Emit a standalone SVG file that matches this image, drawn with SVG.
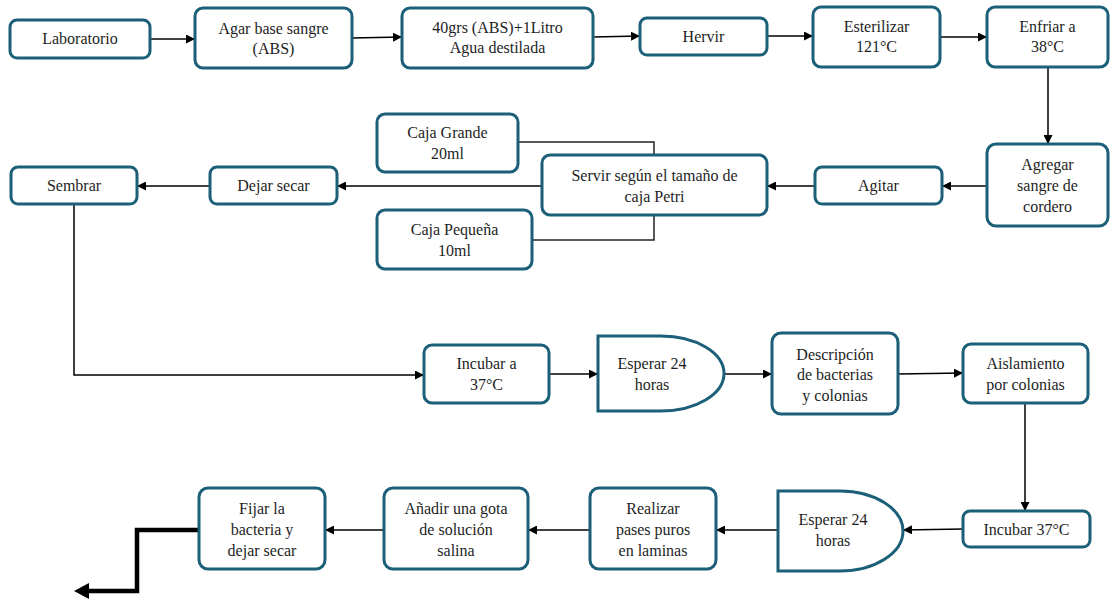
<svg xmlns="http://www.w3.org/2000/svg" width="1110" height="601" viewBox="0 0 1110 601" font-family="'Liberation Serif', 'DejaVu Serif', serif">
<defs>
<style>
.b{fill:#fff;stroke:#1b5f78;stroke-width:3}
.t{font-size:16px;fill:#1e1e1e;text-anchor:middle}
.c{fill:none;stroke:#000;stroke-width:1.5}
.k{fill:none;stroke:#222;stroke-width:1.5}
</style>
<marker id="a" viewBox="0 0 10 10" refX="10" refY="5" markerWidth="9" markerHeight="9" markerUnits="userSpaceOnUse" orient="auto"><path d="M0,0 L10,5 L0,10 z" fill="#000"/></marker>
</defs>
<rect width="1110" height="601" fill="#fff"/>
<g id="connectors">
<path class="c" marker-end="url(#a)" d="M150,39 H195"/>
<path class="c" marker-end="url(#a)" d="M352,38 L402,37"/>
<path class="c" marker-end="url(#a)" d="M593,37 L640,36"/>
<path class="c" marker-end="url(#a)" d="M767,36 H813"/>
<path class="c" marker-end="url(#a)" d="M940,37 H987"/>
<path class="c" marker-end="url(#a)" d="M1048,67 V144"/>
<path class="c" marker-end="url(#a)" d="M987,186 H942"/>
<path class="c" marker-end="url(#a)" d="M815,186 H767"/>
<path class="c" marker-end="url(#a)" d="M542,186 H337"/>
<path class="c" marker-end="url(#a)" d="M210,186 H137"/>
<path class="k" d="M518,142 H654 V155"/>
<path class="k" d="M532,240 H654 V215"/>
<path class="c" marker-end="url(#a)" d="M74,204 V375 H424"/>
<path class="c" marker-end="url(#a)" d="M549,374 H598"/>
<path class="c" marker-end="url(#a)" d="M724,374 H772"/>
<path class="c" marker-end="url(#a)" d="M898,374 L963,373"/>
<path class="c" marker-end="url(#a)" d="M1025,403 V511"/>
<path class="c" marker-end="url(#a)" d="M963,529 L903,530"/>
<path class="c" marker-end="url(#a)" d="M778,530 H716"/>
<path class="c" marker-end="url(#a)" d="M590,530 H528"/>
<path class="c" marker-end="url(#a)" d="M384,530 H325"/>
<path fill="none" stroke="#000" stroke-width="4.5" d="M199,530 H137 V591 H86"/>
<path d="M74,591 L89,583 L89,599 Z" fill="#000"/>
</g>
<g id="n1"><rect class="b" x="10" y="20" width="140" height="38" rx="7"/><text class="t" x="80" y="44">Laboratorio</text></g>
<g id="n2"><rect class="b" x="195" y="8" width="157" height="60" rx="8"/><text class="t" x="273.5" y="34">Agar base sangre</text><text class="t" x="273.5" y="54">(ABS)</text></g>
<g id="n3"><rect class="b" x="402" y="8" width="191" height="60" rx="8"/><text class="t" x="497.5" y="33">40grs (ABS)+1Litro</text><text class="t" x="497.5" y="53">Agua destilada</text></g>
<g id="n4"><rect class="b" x="640" y="18" width="127" height="37" rx="7"/><text class="t" x="703.5" y="42">Hervir</text></g>
<g id="n5"><rect class="b" x="813" y="7" width="127" height="60" rx="8"/><text class="t" x="876.5" y="32">Esterilizar</text><text class="t" x="876.5" y="52">121°C</text></g>
<g id="n6"><rect class="b" x="987" y="7" width="121" height="60" rx="8"/><text class="t" x="1047.5" y="32">Enfriar a</text><text class="t" x="1047.5" y="52">38°C</text></g>
<g id="n7"><rect class="b" x="987" y="144" width="121" height="82" rx="9"/><text class="t" x="1047.5" y="170">Agregar</text><text class="t" x="1047.5" y="191">sangre de</text><text class="t" x="1047.5" y="212">cordero</text></g>
<g id="n8"><rect class="b" x="815" y="167" width="127" height="37" rx="7"/><text class="t" x="878.5" y="191">Agitar</text></g>
<g id="n9"><rect class="b" x="542" y="155" width="225" height="60" rx="8"/><text class="t" x="654.5" y="181">Servir según el tamaño de</text><text class="t" x="654.5" y="202">caja Petri</text></g>
<g id="n10"><rect class="b" x="377" y="114" width="141" height="58" rx="8"/><text class="t" x="447.5" y="138">Caja Grande</text><text class="t" x="447.5" y="159">20ml</text></g>
<g id="n11"><rect class="b" x="377" y="210" width="155" height="59" rx="8"/><text class="t" x="454.5" y="235">Caja Pequeña</text><text class="t" x="454.5" y="256">10ml</text></g>
<g id="n12"><rect class="b" x="210" y="167" width="127" height="37" rx="7"/><text class="t" x="273.5" y="191">Dejar secar</text></g>
<g id="n13"><rect class="b" x="11" y="167" width="126" height="37" rx="7"/><text class="t" x="74" y="191">Sembrar</text></g>
<g id="n14"><rect class="b" x="424" y="345" width="125" height="58" rx="8"/><text class="t" x="486.5" y="369">Incubar a</text><text class="t" x="486.5" y="390">37°C</text></g>
<g id="n15"><path class="b" d="M598,336 H661 A63,37.5 0 0 1 661,411 H598 Z"/><text class="t" x="652" y="369">Esperar 24</text><text class="t" x="652" y="390">horas</text></g>
<g id="n16"><rect class="b" x="772" y="333" width="126" height="81" rx="9"/><text class="t" x="835" y="360">Descripción</text><text class="t" x="835" y="380">de bacterias</text><text class="t" x="835" y="401">y colonias</text></g>
<g id="n17"><rect class="b" x="963" y="344" width="125" height="59" rx="8"/><text class="t" x="1025.5" y="369">Aislamiento</text><text class="t" x="1025.5" y="390">por colonias</text></g>
<g id="n18"><rect class="b" x="963" y="511" width="127" height="36" rx="7"/><text class="t" x="1026.5" y="535">Incubar 37°C</text></g>
<g id="n19"><path class="b" d="M778,491 H840 A63,40 0 0 1 840,571 H778 Z"/><text class="t" x="833" y="525">Esperar 24</text><text class="t" x="833" y="546">horas</text></g>
<g id="n20"><rect class="b" x="590" y="488" width="126" height="81" rx="9"/><text class="t" x="653" y="514">Realizar</text><text class="t" x="653" y="535">pases puros</text><text class="t" x="653" y="556">en laminas</text></g>
<g id="n21"><rect class="b" x="384" y="488" width="144" height="81" rx="9"/><text class="t" x="456" y="514">Añadir una gota</text><text class="t" x="456" y="535">de solución</text><text class="t" x="456" y="556">salina</text></g>
<g id="n22"><rect class="b" x="199" y="488" width="126" height="81" rx="9"/><text class="t" x="262" y="514">Fijar la</text><text class="t" x="262" y="535">bacteria y</text><text class="t" x="262" y="556">dejar secar</text></g>
</svg>
